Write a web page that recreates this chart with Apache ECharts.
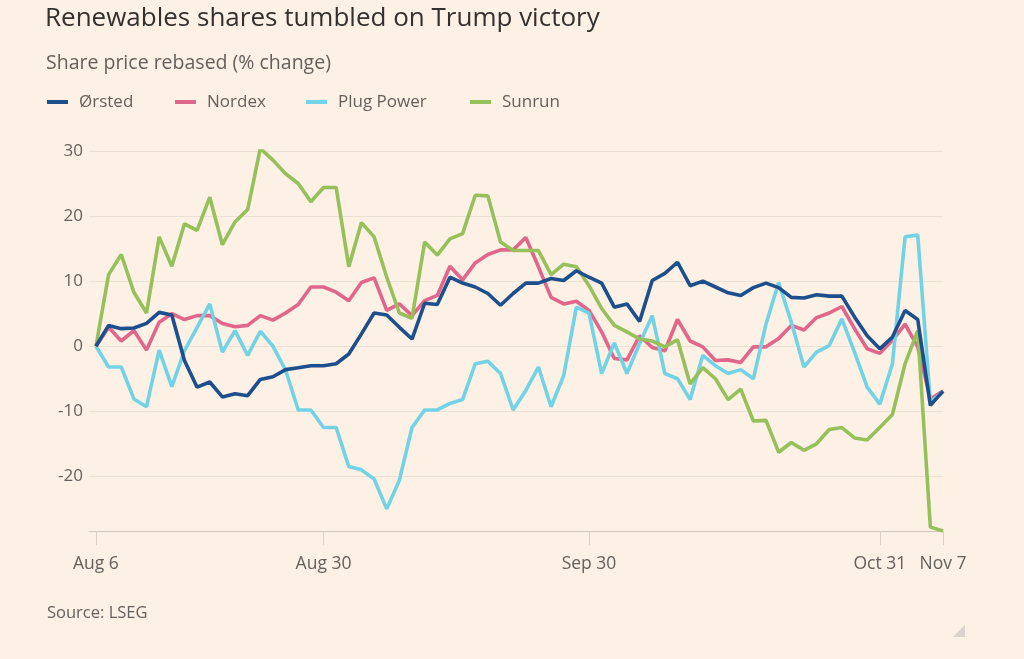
<!DOCTYPE html>
<html>
<head>
<meta charset="utf-8">
<script src="https://cdn.jsdelivr.net/npm/echarts@6/dist/echarts.min.js"></script>
<style>
html,body{margin:0;padding:0;background:#fdf0e4;}
#chart{width:1024px;height:659px;}
</style>
</head>
<body>
<div id="chart"></div>
<script>
const dates = [
  'Aug 6','Aug 7','Aug 8','Aug 9','Aug 12','Aug 13','Aug 14','Aug 15','Aug 16','Aug 19','Aug 20','Aug 21','Aug 22','Aug 23','Aug 26','Aug 27','Aug 28','Aug 29','Aug 30',
  'Sep 2','Sep 3','Sep 4','Sep 5','Sep 6','Sep 9','Sep 10','Sep 11','Sep 12','Sep 13','Sep 16','Sep 17','Sep 18','Sep 19','Sep 20','Sep 23','Sep 24','Sep 25','Sep 26','Sep 27','Sep 30',
  'Oct 1','Oct 2','Oct 3','Oct 4','Oct 7','Oct 8','Oct 9','Oct 10','Oct 11','Oct 14','Oct 15','Oct 16','Oct 17','Oct 18','Oct 21','Oct 22','Oct 23','Oct 24','Oct 25','Oct 28','Oct 29','Oct 30','Oct 31',
  'Nov 1','Nov 4','Nov 5','Nov 6','Nov 7'
];
const tickLabels = ['Aug 6','Aug 30','Sep 30','Oct 31','Nov 7'];
const yTicks = [-20,-10,0,10,20,30];

const orsted = [0,3.2,2.7,2.8,3.5,5.2,4.8,-2.2,-6.3,-5.5,-7.8,-7.3,-7.6,-5.1,-4.7,-3.6,-3.3,-3.0,-3.0,
  -2.7,-1.2,1.9,5.1,4.8,2.9,1.1,6.6,6.4,10.6,9.7,9.1,8.1,6.3,8.1,9.7,9.7,10.4,10.1,11.6,10.6,
  9.7,6.0,6.5,3.8,10.1,11.2,12.9,9.3,10.0,9.1,8.2,7.8,9.0,9.7,9.0,7.5,7.4,7.9,7.7,7.7,4.5,1.6,-0.4,
  1.4,5.5,4.1,-9.1,-6.9];
const nordex = [0,2.9,0.8,2.4,-0.6,3.7,5.0,4.1,4.7,4.7,3.5,3.0,3.2,4.7,4.0,5.1,6.4,9.1,9.1,
  8.3,7.0,9.8,10.5,5.5,6.5,4.7,7.0,7.8,12.3,10.2,12.8,14.1,14.8,14.8,16.7,12.2,7.5,6.5,6.9,5.5,
  2.2,-1.9,-2.1,1.6,-0.2,-0.7,4.1,0.8,-0.1,-2.2,-2.1,-2.5,-0.1,-0.1,1.2,3.2,2.5,4.4,5.1,6.1,2.7,-0.4,-1.1,
  0.9,3.4,-0.1,-8.1,-6.9];
const plugPower = [0,-3.2,-3.2,-8.1,-9.3,-0.6,-6.2,-0.7,2.9,6.5,-0.9,2.4,-1.4,2.3,0,-3.7,-9.8,-9.8,-12.5,
  -12.5,-18.5,-19.0,-20.4,-25.0,-20.6,-12.5,-9.8,-9.8,-8.8,-8.2,-2.7,-2.3,-4.2,-9.8,-6.8,-3.2,-9.3,-4.5,6.0,5.1,
  -4.2,0.5,-4.2,0.4,4.7,-4.2,-5.0,-8.2,-1.4,-3.0,-4.2,-3.6,-5.0,3.4,9.8,3.7,-3.2,-0.9,0.1,4.2,-0.9,-6.3,-8.9,
  -2.7,16.8,17.1,-8.6,-7.0];
const sunrun = [0,11.0,14.1,8.3,5.1,16.8,12.3,18.8,17.8,22.9,15.6,19.1,21.0,30.4,28.6,26.5,25.0,22.2,24.4,
  24.4,12.2,19.0,16.8,10.6,5.1,4.3,16.0,14.0,16.5,17.3,23.2,23.1,16.0,14.7,14.7,14.7,11.0,12.6,12.2,9.3,
  5.8,3.2,2.2,1.1,0.8,-0.1,1.0,-5.8,-3.3,-5.0,-8.2,-6.6,-11.5,-11.4,-16.3,-14.8,-16.0,-15.0,-12.8,-12.5,-14.1,-14.4,-12.5,
  -10.5,-2.7,2.4,-27.8,-28.4];

const seriesNames = ['Ørsted','Nordex','Plug Power','Sunrun'];
const seriesData = [orsted, nordex, plugPower, sunrun];
const colors = ['#1c4f8c','#e0668a','#72d3e6','#95c05a'];
const legendLefts = [47,175,306,470];

const tickIdx = tickLabels.map(l => dates.indexOf(l));
const textGrey = '#66605c';
const FONT = 'Open Sans';

const chart = echarts.init(document.getElementById('chart'), null, {renderer:'canvas'});
const option = {
  backgroundColor:'#fdf0e4',
  animation:false,
  textStyle:{fontFamily:FONT},
  title:[
    {text:'Renewables shares tumbled on Trump victory', left:45, top:6, padding:0,
     textStyle:{fontFamily:FONT, fontSize:26, fontWeight:'normal', color:'#33302e'}},
    {text:'Share price rebased (% change)', left:46, top:53, padding:0,
     textStyle:{fontFamily:FONT, fontSize:19.5, fontWeight:'normal', color:textGrey}},
    {text:'Source: LSEG', left:47, top:605, padding:0,
     textStyle:{fontFamily:FONT, fontSize:16.5, fontWeight:'normal', color:textGrey}}
  ],
  legend: seriesNames.map((n,k)=>({
    data:[n], left:legendLefts[k], top:91, padding:0, icon:'rect', itemWidth:21, itemHeight:4,
    textStyle:{fontFamily:FONT, fontSize:17, color:textGrey, padding:[0,0,0,6], lineHeight:22},
    selectedMode:false
  })),
  grid:{left:89, right:81, top:151, bottom:128},
  xAxis:{
    type:'value', min:-0.55, max:dates.length-1,
    axisLine:{show:true, onZero:false, lineStyle:{color:'#cfc6bd', width:1}},
    axisTick:{show:true, customValues:tickIdx, length:14, lineStyle:{color:'#d9d0c7'}},
    axisLabel:{customValues:tickIdx, formatter:v=>dates[Math.round(v)], fontFamily:FONT, fontSize:17.5, color:textGrey, margin:24},
    splitLine:{show:false}
  },
  yAxis:{
    type:'value', min:-28.4, max:30,
    axisLine:{show:false}, axisTick:{show:false},
    axisLabel:{showMinLabel:false, formatter:v=> yTicks.indexOf(v)>=0 ? String(v) : '', fontFamily:FONT, fontSize:17, color:textGrey, margin:6},
    splitLine:{lineStyle:{color:'#ede1d6', width:1}}
  },
  series: seriesNames.map((n,k)=>({
    name:n, type:'line', showSymbol:false, symbol:'none',
    data: seriesData[k].map((v,i)=>[i,v]),
    lineStyle:{color:colors[k], width:3.6}, itemStyle:{color:colors[k]},
    z: k===0 ? 6 : 2+k
  })),
  graphic:[
    {type:'polygon', shape:{points:[[965,625],[965,637],[953,637]]}, style:{fill:'#dcd4cc'}}
  ]
};
chart.setOption(option);
</script>
</body>
</html>
